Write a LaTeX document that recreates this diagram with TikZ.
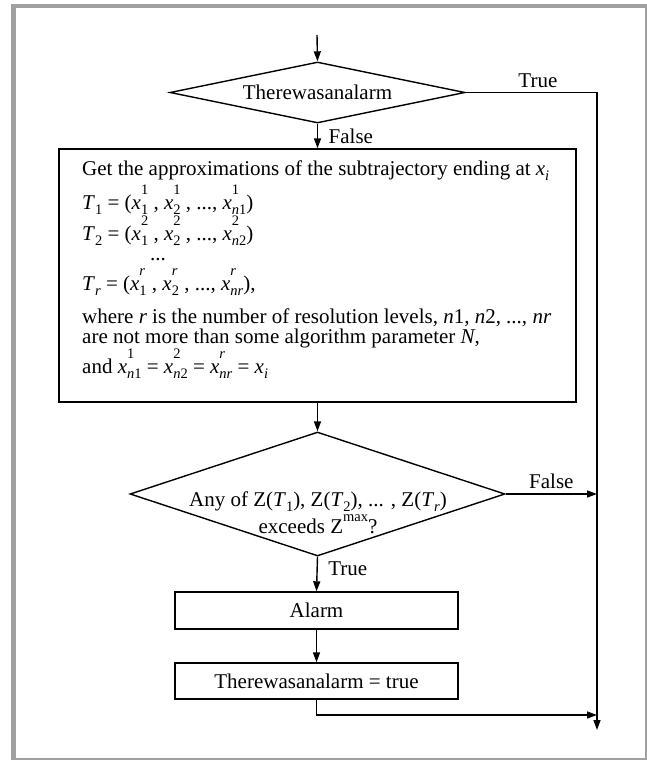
\documentclass[tikz,border=0pt]{standalone}
\usepackage{fontspec}
\setmainfont{Liberation Serif}
\usetikzlibrary{shapes.geometric,arrows.meta}

\definecolor{framegray}{RGB}{160,160,160}
\newcommand{\chartfont}{\fontsize{21}{25}\selectfont}
\newcommand{\idxfont}{\fontsize{14.5}{14.5}\selectfont}
\newcommand{\subidx}[1]{\raisebox{-5pt}{\idxfont #1}}
\newcommand{\supidx}[1]{\raisebox{15pt}{\idxfont #1}}
\newcommand{\xpair}[2]{\textit{x}\rlap{\supidx{#1}}\subidx{#2}}

\begin{document}
\begin{tikzpicture}[
        x=1pt, y=-1pt,
        every node/.style={font=\chartfont},
        decision/.style={diamond, draw, line width=1.4pt, shape aspect=5, inner sep=0pt},
        process/.style={rectangle, draw, line width=1.4pt, minimum width=283pt, inner sep=0pt},
        flow/.style={line width=1.4pt, -{Triangle[length=10pt, width=7pt]}},
        tag/.style={inner sep=2.5pt}
    ]

    \useasboundingbox (0,0) rectangle (646,760);
    \draw[framegray, line width=4.5pt] (13.5,6) rectangle (647,760.5);

    % Define nodes
    \coordinate (start) at (317,35);
    \node[decision, minimum width=295pt, minimum height=61pt] (alarmcheck) at (317.5,92.5) {Therewasanalarm};
    \node[rectangle, draw, line width=1.4pt, minimum width=517pt, minimum height=253pt] (approx) at (317.5,275.5) {};
    % text of the big box, one line per node
    \foreach \xpos/\ypos/\linetext [count=\i] in {
        82/175/{Get the approximations of the subtrajectory ending at \textit{x}\subidx{\textit{i}}},
        82/209/{\textit{T}\subidx{1} = (\xpair{1}{1} , \xpair{1}{2} , ..., \xpair{1}{\textit{n}1})},
        82/240/{\textit{T}\subidx{2} = (\xpair{2}{1} , \xpair{2}{2} , ..., \xpair{2}{\textit{n}2})},
        150/260/{...},
        82/290/{\textit{T}\subidx{\textit{r}} = (\xpair{\textit{r}}{1} , \xpair{\textit{r}}{2} , ..., \xpair{\textit{r}}{\textit{nr}}),},
        82/323/{where \textit{r} is the number of resolution levels, \textit{n}1, \textit{n}2, ..., \textit{nr}},
        82/343/{are not more than some algorithm parameter \textit{N},},
        82/373/{and \xpair{1}{\textit{n}1} = \xpair{2}{\textit{n}2} = \xpair{\textit{r}}{\textit{nr}} = \textit{x}\subidx{\textit{i}}}}
        \node[anchor=base west, inner sep=0pt] (approxline\i) at (\xpos,\ypos) {\linetext};
    \node[decision, minimum width=375pt, minimum height=124pt] (zcheck) at (317.5,494) {};
    \node[align=center, font={\fontsize{21}{27}\selectfont}] (zchecktext) at (318,513) {%
        Any of Z(\textit{T}\subidx{1}), Z(\textit{T}\subidx{2}), ... , Z(\textit{T}\subidx{\textit{r}})\\
        exceeds Z\raisebox{12pt}{\idxfont max}?};
    \node[process, minimum height=37pt] (alarm) at (316.5,610.5) {Alarm};
    \node[process, minimum height=36pt] (setflag) at (316.5,681) {Therewasanalarm = true};
    \coordinate (railtop) at (597,92.5);
    \coordinate (railend) at (597,730);
    \coordinate (merge) at (597,715);

    % Connectors
    \draw[flow] (start) -- (alarmcheck.north);
    \draw[flow] (alarmcheck.south) -- (approx.north) node[tag, midway, right, xshift=8pt] {False};
    \draw[flow] (alarmcheck.east) -- (railtop) node[tag, pos=0.55, above=2pt] {True} -- (railend);
    \draw[flow] (approx.south) -- (zcheck.north);
    \draw[flow] (zcheck.east) -- (zcheck.east -| railtop) node[tag, midway, above=2pt] {False};
    \draw[flow] (zcheck.south) -- (alarm.north) node[tag, pos=0.35, right, xshift=8pt] {True};
    \draw[flow] (alarm.south) -- (setflag.north);
    \draw[flow] (setflag.south) |- (merge);

\end{tikzpicture}
\end{document}
